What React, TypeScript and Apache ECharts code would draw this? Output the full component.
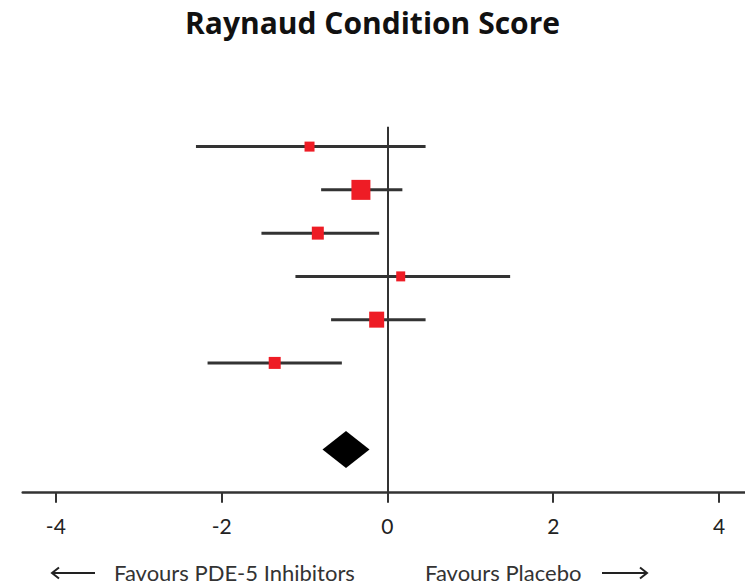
import React, { useEffect, useRef } from "react";
import * as echarts from "echarts";

const titleText = "Raynaud Condition Score";
const studyRows = [0, 1, 2, 3, 4, 5];
const estimates = [-0.94, -0.32, -0.84, 0.16, -0.13, -1.36];
const lowerCI = [-2.31, -0.8, -1.52, -1.11, -0.68, -2.17];
const upperCI = [0.46, 0.18, -0.1, 1.48, 0.46, -0.55];
const markerSizes = [
  [10, 10],
  [19, 20],
  [12, 13],
  [9, 10],
  [15, 16],
  [12, 12],
];
const pooledRow = 7;
const pooledEstimate = -0.5;
const tickValues = [-4, -2, 0, 2, 4];
const leftLabel = "Favours PDE-5 Inhibitors";
const rightLabel = "Favours Placebo";

export default function App() {
  const ref = useRef<HTMLDivElement>(null);
  useEffect(() => {
    document.body.style.margin = "0";
    if (!ref.current) return;
    const chart = echarts.init(ref.current, null, { renderer: "svg" });
    const font = "Lato, 'Open Sans', sans-serif";
    const errData = studyRows.map((r, i) => [r, lowerCI[i], upperCI[i]]);
    const ptData = studyRows.map((r, i) => [estimates[i], r, i]);
    chart.setOption({
      animation: false,
      backgroundColor: "#fff",
      title: {
        text: titleText,
        left: "center",
        top: 2,
        textStyle: {
          fontFamily: "'Open Sans', sans-serif",
          fontWeight: "bold",
          fontSize: 30,
          color: "#111",
        },
      },
      grid: {
        left: 22.7,
        top: 126.7,
        width: 729.5,
        height: 366,
        containLabel: false,
        outerBoundsMode: "none",
      },
      xAxis: {
        type: "value",
        min: -4.4,
        max: 4.4,
        splitLine: { show: false },
        axisLine: { onZero: false, lineStyle: { color: "#333", width: 2.5 } },
        axisTick: {
          show: true,
          customValues: tickValues,
          length: 10,
          lineStyle: { color: "#333", width: 2 },
        },
        axisLabel: {
          customValues: tickValues,
          margin: 22,
          fontFamily: font,
          fontSize: 21,
          color: "#222",
        },
      },
      yAxis: {
        type: "value",
        inverse: true,
        min: -0.46,
        max: 8,
        show: false,
        splitLine: { show: false },
      },
      series: [
        {
          type: "custom",
          data: errData,
          encode: { x: [1, 2], y: 0 },
          renderItem: (params: any, api: any) => {
            const y = api.value(0);
            const a = api.coord([api.value(1), y]);
            const b = api.coord([api.value(2), y]);
            return {
              type: "line",
              shape: { x1: a[0], y1: a[1], x2: b[0], y2: b[1] },
              style: { stroke: "#333", lineWidth: 3 },
            };
          },
          markLine: {
            silent: true,
            symbol: "none",
            label: { show: false },
            lineStyle: { color: "#333", width: 2, type: "solid" },
            data: [{ xAxis: 0 }],
          },
          z: 2,
        },
        {
          type: "scatter",
          data: ptData,
          symbol: "rect",
          symbolSize: (val: number[]) => markerSizes[val[2]],
          itemStyle: { color: "#ee1c25", opacity: 1 },
          z: 3,
        },
        {
          type: "scatter",
          data: [[pooledEstimate, pooledRow]],
          symbol: "diamond",
          symbolSize: [47, 37],
          itemStyle: { color: "#000", opacity: 1 },
          z: 3,
        },
      ],
      graphic: [
        {
          type: "line",
          shape: { x1: 52, y1: 573, x2: 95, y2: 573 },
          style: { stroke: "#222", lineWidth: 2 },
        },
        {
          type: "polyline",
          shape: { points: [[59, 567.5], [52, 573], [59, 578.5]] },
          style: { stroke: "#222", lineWidth: 2, fill: null },
        },
        {
          type: "text",
          x: 114,
          y: 572,
          style: {
            text: leftLabel,
            fontFamily: font,
            fontSize: 22,
            fill: "#333",
            verticalAlign: "middle",
          },
        },
        {
          type: "text",
          x: 425,
          y: 572,
          style: {
            text: rightLabel,
            fontFamily: font,
            fontSize: 22,
            fill: "#333",
            verticalAlign: "middle",
          },
        },
        {
          type: "line",
          shape: { x1: 602, y1: 573, x2: 647, y2: 573 },
          style: { stroke: "#222", lineWidth: 2 },
        },
        {
          type: "polyline",
          shape: { points: [[640, 567.5], [647, 573], [640, 578.5]] },
          style: { stroke: "#222", lineWidth: 2, fill: null },
        },
      ],
    });
    return () => chart.dispose();
  }, []);
  return <div ref={ref} style={{ width: 745, height: 585 }} />;
}
